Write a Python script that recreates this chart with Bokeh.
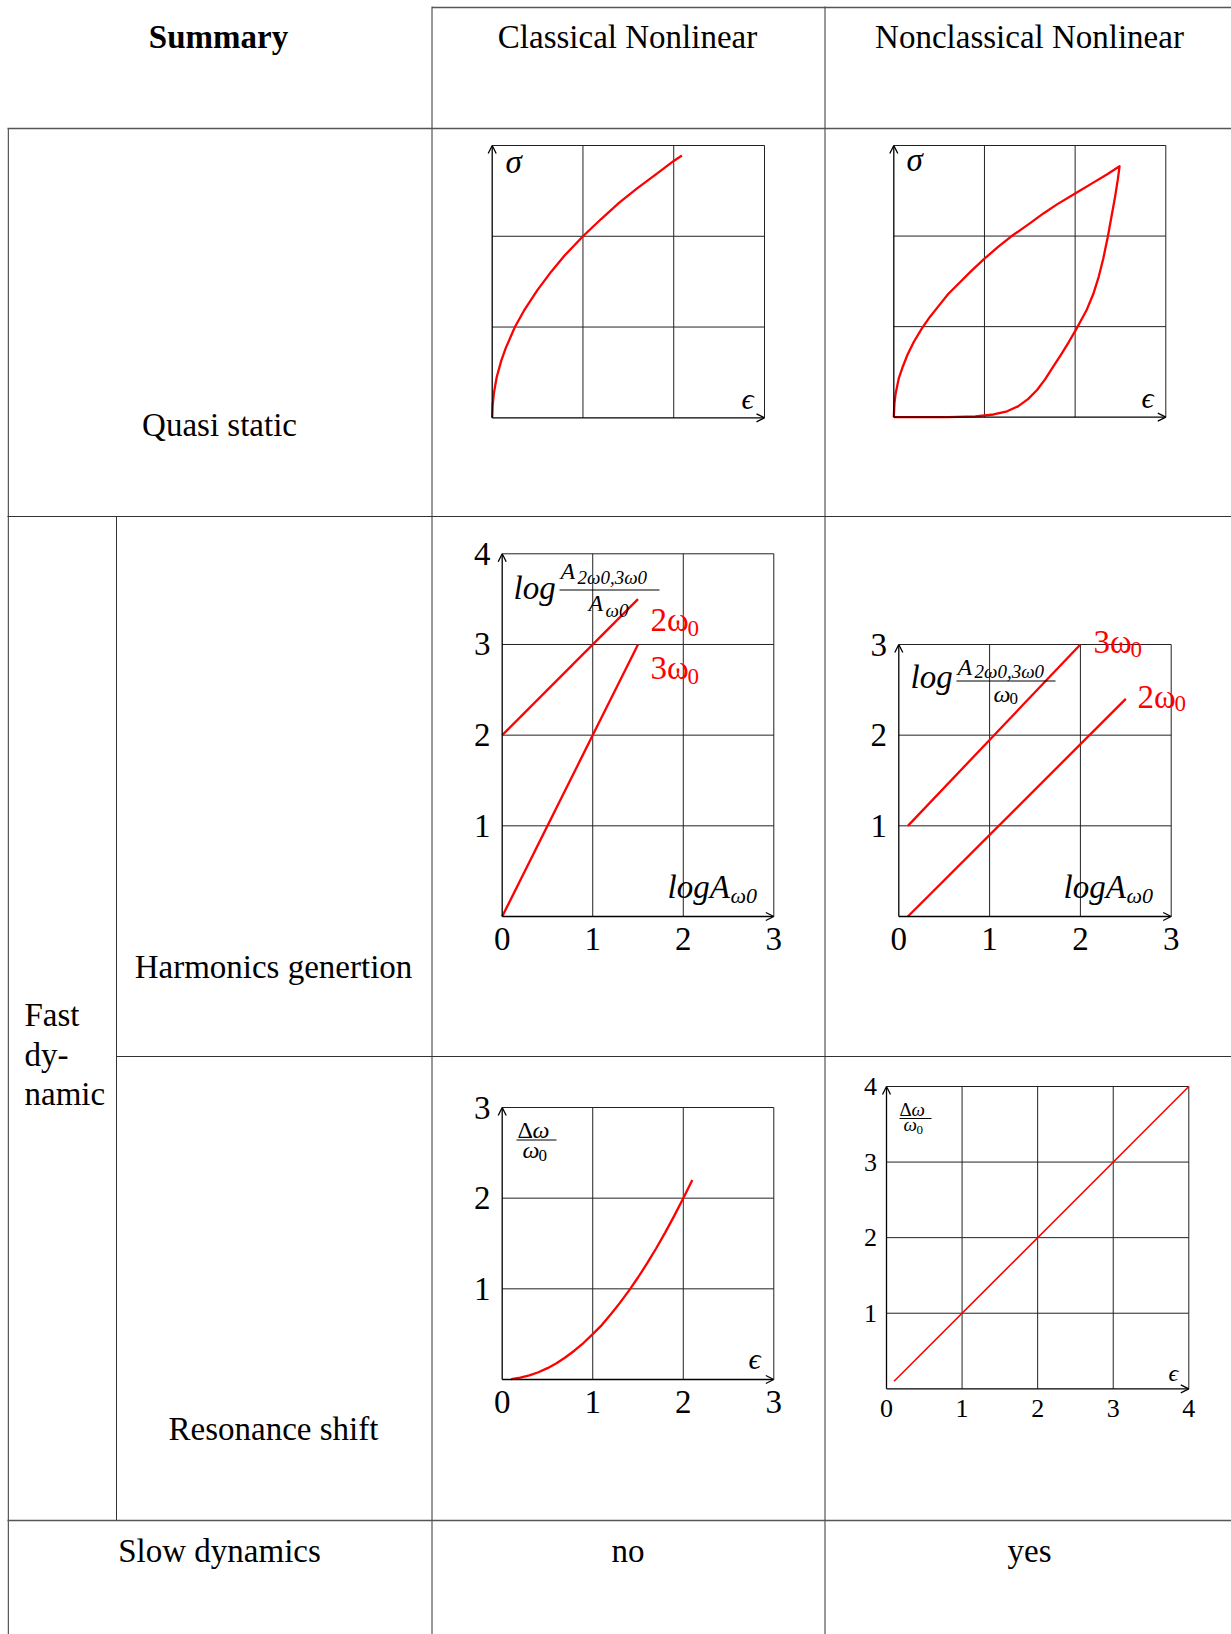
from bokeh.plotting import figure
from bokeh.models import Range1d, Arrow, OpenHead
from bokeh.core.properties import value
from bokeh.embed import file_html
from bokeh.resources import INLINE

FONT = "Liberation Serif"

# ---------------- data ----------------
# Quasi static, classical nonlinear: stress vs strain
qs_cl_strain = [0, 0.005, 0.02, 0.05, 0.1, 0.15, 0.25, 0.35, 0.5, 0.65, 0.8, 1.0,
                1.2, 1.4, 1.6, 1.8, 2.0, 2.09]
qs_cl_stress = [0, 0.14, 0.28, 0.45, 0.63, 0.77, 1.0, 1.18, 1.41, 1.61, 1.79, 2.0,
                2.19, 2.37, 2.53, 2.68, 2.83, 2.89]
# Quasi static, nonclassical nonlinear: hysteresis loop (loading, then unloading)
qs_ncl_strain = [0, 0.007, 0.02, 0.055, 0.1, 0.147, 0.22, 0.31, 0.4, 0.48, 0.6, 0.70,
                 0.85, 1.0, 1.15, 1.30, 1.5, 1.65, 1.8, 2.0, 2.2, 2.35, 2.49,
                 2.47, 2.44, 2.40, 2.36, 2.31, 2.26, 2.20, 2.13, 2.06, 2.0, 1.93,
                 1.85, 1.76, 1.67, 1.58, 1.48, 1.37, 1.25, 1.1, 0.9, 0.6, 0]
qs_ncl_stress = [0, 0.15, 0.26, 0.43, 0.56, 0.68, 0.83, 0.98, 1.11, 1.21, 1.36, 1.46,
                 1.61, 1.75, 1.88, 2.0, 2.14, 2.25, 2.35, 2.47, 2.59, 2.68, 2.77,
                 2.62, 2.43, 2.21, 1.99, 1.75, 1.55, 1.36, 1.19, 1.06, 0.95, 0.83,
                 0.70, 0.56, 0.42, 0.30, 0.20, 0.12, 0.065, 0.03, 0.01, 0.0, 0]
# Harmonics generation
hg_cl_2w_x = [0, 1.5]
hg_cl_2w_y = [2, 3.5]
hg_cl_3w_x = [0, 1.5]
hg_cl_3w_y = [0, 3]
hg_ncl_3w_x = [0.1, 2.0]
hg_ncl_3w_y = [1.0, 3.0]
hg_ncl_2w_x = [0.1, 2.5]
hg_ncl_2w_y = [0.0, 2.4]
# Resonance shift
rs_cl_x = [0.1, 0.2, 0.3, 0.4, 0.5, 0.6, 0.7, 0.8, 0.9, 1.0, 1.1, 1.2, 1.3, 1.4,
           1.5, 1.6, 1.7, 1.8, 1.9, 2.0, 2.1]
rs_cl_y = [0.005, 0.02, 0.045, 0.08, 0.125, 0.18, 0.245, 0.32, 0.405, 0.5, 0.6, 0.72,
           0.845, 0.98, 1.125, 1.28, 1.445, 1.62, 1.805, 2.0, 2.2]
rs_ncl_x = [0.1, 4.0]
rs_ncl_y = [0.1, 4.0]

# tick labels
hg_cl_xticks = ["0", "1", "2", "3"]
hg_cl_yticks = ["1", "2", "3", "4"]
hg_ncl_xticks = ["0", "1", "2", "3"]
hg_ncl_yticks = ["1", "2", "3"]
rs_cl_xticks = ["0", "1", "2", "3"]
rs_cl_yticks = ["1", "2", "3"]
rs_ncl_xticks = ["0", "1", "2", "3", "4"]
rs_ncl_yticks = ["1", "2", "3", "4"]

# table texts
header = ["Summary", "Classical Nonlinear", "Nonclassical Nonlinear"]
row_labels = ["Quasi static", "Harmonics genertion", "Resonance shift", "Slow dynamics"]
group_label = ["Fast", "dy-", "namic"]
slow_values = ["no", "yes"]

# ---------------- layout ----------------
W, H = 1231, 1634
PX0, PX1 = 0, W
PY0, PY1 = 0, H

# chart boxes in page pixels: (left, right, bottom, top), (nx, ny)
BOX = {
    "qs_cl": ((491.7, 764.0, 417.3, 145.0), (3, 3)),
    "qs_ncl": ((893.3, 1165.3, 416.7, 145.0), (3, 3)),
    "hg_cl": ((501.7, 773.3, 916.0, 553.3), (3, 4)),
    "hg_ncl": ((898.3, 1170.7, 916.0, 644.0), (3, 3)),
    "rs_cl": ((501.7, 773.3, 1379.0, 1107.0), (3, 3)),
    "rs_ncl": ((886.0, 1188.3, 1388.3, 1086.0), (4, 4)),
}

xr, yr = {}, {}
for k, ((L, R, B, T), (nx, ny)) in BOX.items():
    sx = (R - L) / nx
    sy = (B - T) / ny
    xr[k] = Range1d((PX0 - L) / sx, (PX1 - L) / sx)
    yr[k] = Range1d((B - PY1) / sy, (B - PY0) / sy)

p = figure(width=W, height=H, x_range=Range1d(PX0, PX1), y_range=Range1d(PY1, PY0),
           output_backend="svg", toolbar_location=None, min_border=0,
           x_axis_location=None, y_axis_location=None)
p.extra_x_ranges = xr
p.extra_y_ranges = yr
p.grid.visible = False
p.outline_line_color = None
p.background_fill_color = "white"
p.border_fill_color = "white"


def to_chart(k, px, py):
    (L, R, B, T), (nx, ny) = BOX[k]
    return (px - L) / ((R - L) / nx), (B - py) / ((B - T) / ny)


def txt(x, y, s, size, rng="default", color="black", style="normal",
        align="left", baseline="middle", xo=0, yo=0):
    p.text(x=x, y=y, text=s, x_range_name=rng, y_range_name=rng,
           text_font=value(FONT), text_font_size=f"{size}px", text_color=color,
           text_font_style=style, text_align=align, text_baseline=baseline,
           x_offset=xo, y_offset=yo)


def lab(k, px, py, s, size, color="black", style="normal"):
    x, y = to_chart(k, px, py)
    txt([x], [y], [s], size, rng=k, color=color, style=style)


def bar(k, px0, px1, py):
    x0, y = to_chart(k, px0, py)
    x1, _ = to_chart(k, px1, py)
    p.segment(x0=[x0], y0=[y], x1=[x1], y1=[y], x_range_name=k, y_range_name=k,
              line_color="black", line_width=1.1)


# ---------------- table lines ----------------
p.segment(x0=[7.8, 116, 431.5, 824.5], y0=[128, 516, 6, 6],
          x1=[7.8, 116, 431.5, 824.5], y1=[1640, 1520, 1640, 1640],
          line_color="#333333", line_width=1.0)
p.segment(x0=[431.5, 7, 7], y0=[7, 128, 1520], x1=[1240, 1240, 1240], y1=[7, 128, 1520],
          line_color="#555555", line_width=1.7)
p.segment(x0=[7, 116], y0=[516, 1056], x1=[1240, 1240], y1=[516, 1056],
          line_color="#333333", line_width=1.1)

# ---------------- table texts ----------------
txt([218], [36], [header[0]], 33, style="bold", align="center")
txt([627, 1029], [36, 36], header[1:], 33, align="center")
txt([219, 273, 273, 219], [424, 966, 1428, 1550], row_labels, 33, align="center")
txt([24, 24, 24], [1014, 1054, 1093], group_label, 33, align="left")
txt([627.5, 1029], [1550, 1550], slow_values, 33, align="center")


# ---------------- chart frames ----------------
def frame(k):
    (L, R, B, T), (nx, ny) = BOX[k]
    gx = list(range(1, nx + 1))
    gy = list(range(1, ny + 1))
    p.segment(x0=gx, y0=[0] * nx, x1=gx, y1=[ny] * nx, x_range_name=k, y_range_name=k,
              line_color="#222222", line_width=1.0)
    p.segment(x0=[0] * ny, y0=gy, x1=[nx] * ny, y1=gy, x_range_name=k, y_range_name=k,
              line_color="#222222", line_width=1.0)
    for (xs, ys, xe, ye) in [(0, 0, nx, 0), (0, 0, 0, ny)]:
        p.add_layout(Arrow(x_start=xs, y_start=ys, x_end=xe, y_end=ye,
                           x_range_name=k, y_range_name=k,
                           line_color="black", line_width=1.3,
                           end=OpenHead(size=8, line_width=1.3, line_color="black")))


for k in BOX:
    frame(k)


def ticks(k, xt, yt, size, xoff, yoff):
    txt(list(range(len(xt))), [0] * len(xt), xt, size, rng=k, align="center", yo=yoff)
    txt([0] * len(yt), list(range(1, len(yt) + 1)), yt, size, rng=k, align="center", xo=xoff)


ticks("hg_cl", hg_cl_xticks, hg_cl_yticks, 33, -20, 22)
ticks("hg_ncl", hg_ncl_xticks, hg_ncl_yticks, 33, -20, 22)
ticks("rs_cl", rs_cl_xticks, rs_cl_yticks, 33, -20, 22)
ticks("rs_ncl", rs_ncl_xticks, rs_ncl_yticks, 26, -16, 20)

RED = "#ff0000"
# ---------------- curves ----------------
p.line(qs_cl_strain, qs_cl_stress, x_range_name="qs_cl", y_range_name="qs_cl",
       line_color=RED, line_width=2.3, line_join="round")
p.line(qs_ncl_strain, qs_ncl_stress, x_range_name="qs_ncl", y_range_name="qs_ncl",
       line_color=RED, line_width=2.3, line_join="round")
for xs, ys in [(hg_cl_2w_x, hg_cl_2w_y), (hg_cl_3w_x, hg_cl_3w_y)]:
    p.line(xs, ys, x_range_name="hg_cl", y_range_name="hg_cl", line_color=RED, line_width=2.3)
for xs, ys in [(hg_ncl_3w_x, hg_ncl_3w_y), (hg_ncl_2w_x, hg_ncl_2w_y)]:
    p.line(xs, ys, x_range_name="hg_ncl", y_range_name="hg_ncl", line_color=RED, line_width=2.3)
p.line(rs_cl_x, rs_cl_y, x_range_name="rs_cl", y_range_name="rs_cl", line_color=RED,
       line_width=2.3, line_join="round")
p.line(rs_ncl_x, rs_ncl_y, x_range_name="rs_ncl", y_range_name="rs_ncl", line_color=RED,
       line_width=1.6)

# ---------------- chart labels (middle-anchored) ----------------
lab("qs_cl", 505, 161, "σ", 33, style="italic")
lab("qs_cl", 741, 398, "ϵ", 30, style="italic")
lab("qs_ncl", 906, 159, "σ", 33, style="italic")
lab("qs_ncl", 1141, 397, "ϵ", 30, style="italic")

# harmonics classical
lab("hg_cl", 513, 587, "log", 33, style="italic")
lab("hg_cl", 560, 570, "A", 24, style="italic")
lab("hg_cl", 577, 577, "2ω0,3ω0", 19, style="italic")
bar("hg_cl", 559, 659, 589.5)
lab("hg_cl", 588, 602, "A", 24, style="italic")
lab("hg_cl", 605, 610, "ω0", 19, style="italic")
lab("hg_cl", 650, 619, "2ω", 33, color=RED)
lab("hg_cl", 687, 628, "0", 23, color=RED)
lab("hg_cl", 650, 667, "3ω", 33, color=RED)
lab("hg_cl", 687, 676, "0", 23, color=RED)
lab("hg_cl", 667, 886, "logA", 33, style="italic")
lab("hg_cl", 730, 895, "ω0", 22, style="italic")

# harmonics nonclassical
lab("hg_ncl", 910, 676, "log", 33, style="italic")
lab("hg_ncl", 957, 666, "A", 24, style="italic")
lab("hg_ncl", 974, 671, "2ω0,3ω0", 19, style="italic")
bar("hg_ncl", 956, 1055, 680.5)
lab("hg_ncl", 993, 693, "ω", 24, style="italic")
lab("hg_ncl", 1009, 698, "0", 17)
lab("hg_ncl", 1093, 641, "3ω", 33, color=RED)
lab("hg_ncl", 1130, 649, "0", 23, color=RED)
lab("hg_ncl", 1137, 696, "2ω", 33, color=RED)
lab("hg_ncl", 1174, 703, "0", 23, color=RED)
lab("hg_ncl", 1063, 886, "logA", 33, style="italic")
lab("hg_ncl", 1126, 895, "ω0", 22, style="italic")

# resonance classical
lab("rs_cl", 517, 1129, "Δ", 24)
lab("rs_cl", 532, 1129, "ω", 24, style="italic")
bar("rs_cl", 516, 556, 1139.5)
lab("rs_cl", 522, 1149, "ω", 24, style="italic")
lab("rs_cl", 538, 1155, "0", 17)
lab("rs_cl", 748, 1358, "ϵ", 30, style="italic")

# resonance nonclassical
lab("rs_ncl", 899, 1109, "Δ", 19)
lab("rs_ncl", 911, 1109, "ω", 19, style="italic")
bar("rs_ncl", 899, 931, 1118)
lab("rs_ncl", 903, 1124, "ω", 19, style="italic")
lab("rs_ncl", 916, 1129, "0", 13)
lab("rs_ncl", 1168, 1372, "ϵ", 24, style="italic")

open("out.html", "w").write(file_html(p, INLINE))
